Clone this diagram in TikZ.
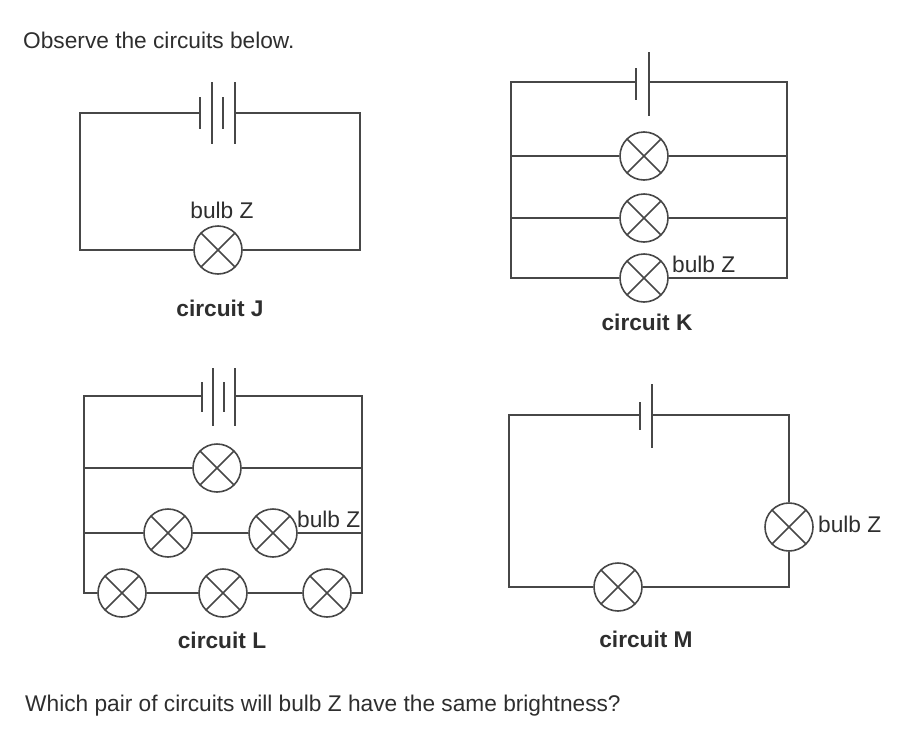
\documentclass[tikz,border=0pt]{standalone}
\usepackage{fontspec}
\setmainfont{Liberation Sans}

\begin{document}
\begin{tikzpicture}[x=1pt,y=-1pt,
	wire/.style={line width=1.6pt,draw=black!72},
	plate/.style={line width=1.9pt,draw=black!72},
	bulb/.style={circle,draw=black!72,line width=1.6pt,minimum size=48pt,inner sep=0pt,
		path picture={\draw[line width=1.6pt,black!72]
			(path picture bounding box.north west) -- (path picture bounding box.south east)
			(path picture bounding box.north east) -- (path picture bounding box.south west);}},
	lbl/.style={inner sep=0pt,text=black!82,font=\fontsize{22.7}{26}\selectfont},
	ctitle/.style={lbl,font=\fontsize{22.7}{26}\selectfont\bfseries}
	]
	\useasboundingbox (0,0) rectangle (921,731);

	\node[lbl,anchor=base west] (observe) at (23,48) {Observe the circuits below.};

	% circuit J
	\coordinate (Jcl) at (200,113);
	\coordinate (Jcr) at (235,113);
	\coordinate (Jtl) at (80,113);
	\coordinate (Jtr) at (360,113);
	\coordinate (Jbl) at (80,250);
	\coordinate (Jbr) at (360,250);
	\node[bulb] (bulbJ) at (218,250) {};
	\draw[wire] (Jcl) -- (Jtl) -- (Jbl) -- (bulbJ) -- (Jbr) -- (Jtr) -- (Jcr);
	\foreach \x/\h in {200/16,212/31,223/16,235/31}
		\draw[plate] (\x,113-\h) -- (\x,113+\h);
	\node[lbl,anchor=base] (zJ) at (222,218) {bulb Z};
	\node[ctitle,anchor=base] (nameJ) at (220,316) {circuit J};

	% circuit K
	\coordinate (Kcl) at (636,82);
	\coordinate (Kcr) at (649,82);
	\coordinate (Ktl) at (511,82);
	\coordinate (Ktr) at (787,82);
	\coordinate (Kl1) at (511,156);
	\coordinate (Kr1) at (787,156);
	\coordinate (Kl2) at (511,218);
	\coordinate (Kr2) at (787,218);
	\coordinate (Kbl) at (511,278);
	\coordinate (Kbr) at (787,278);
	\node[bulb] (bulbK1) at (644,156) {};
	\node[bulb] (bulbK2) at (644,218) {};
	\node[bulb] (bulbK3) at (644,278) {};
	\draw[wire] (Kcl) -- (Ktl) -- (Kbl) -- (bulbK3) -- (Kbr) -- (Ktr) -- (Kcr);
	\draw[wire] (Kl1) -- (bulbK1) -- (Kr1);
	\draw[wire] (Kl2) -- (bulbK2) -- (Kr2);
	\foreach \x/\h in {636/16,649/32}
		\draw[plate] (\x,84-\h) -- (\x,84+\h);
	\node[lbl,anchor=base west] (zK) at (672,272) {bulb Z};
	\node[ctitle,anchor=base] (nameK) at (647,330) {circuit K};

	% circuit L
	\coordinate (Lcl) at (202,396);
	\coordinate (Lcr) at (235,396);
	\coordinate (Ltl) at (84,396);
	\coordinate (Ltr) at (362,396);
	\coordinate (Ll1) at (84,468);
	\coordinate (Lr1) at (362,468);
	\coordinate (Ll2) at (84,533);
	\coordinate (Lr2) at (362,533);
	\coordinate (Lbl) at (84,593);
	\coordinate (Lbr) at (362,593);
	\node[bulb] (bulbL1) at (217,468) {};
	\node[bulb] (bulbL2) at (168,533) {};
	\node[bulb] (bulbL3) at (273,533) {};
	\node[bulb] (bulbL4) at (122,593) {};
	\node[bulb] (bulbL5) at (223,593) {};
	\node[bulb] (bulbL6) at (327,593) {};
	\draw[wire] (Lcl) -- (Ltl) -- (Lbl) -- (bulbL4) -- (bulbL5) -- (bulbL6) -- (Lbr) -- (Ltr) -- (Lcr);
	\draw[wire] (Ll1) -- (bulbL1) -- (Lr1);
	\draw[wire] (Ll2) -- (bulbL2) -- (bulbL3) -- (Lr2);
	\foreach \x/\h in {202/15,213/29,224/15,235/29}
		\draw[plate] (\x,397-\h) -- (\x,397+\h);
	\node[lbl,anchor=base west] (zL) at (297,527) {bulb Z};
	\node[ctitle,anchor=base] (nameL) at (222,648) {circuit L};

	% circuit M
	\coordinate (Mcl) at (640,415);
	\coordinate (Mcr) at (652,415);
	\coordinate (Mtl) at (509,415);
	\coordinate (Mtr) at (789,415);
	\coordinate (Mbl) at (509,587);
	\coordinate (Mbr) at (789,587);
	\node[bulb] (bulbM1) at (618,587) {};
	\node[bulb] (bulbM2) at (789,527) {};
	\draw[wire] (Mcl) -- (Mtl) -- (Mbl) -- (bulbM1) -- (Mbr) -- (bulbM2) -- (Mtr) -- (Mcr);
	\foreach \x/\h in {640/14,652/32}
		\draw[plate] (\x,416-\h) -- (\x,416+\h);
	\node[lbl,anchor=base west] (zM) at (818,532) {bulb Z};
	\node[ctitle,anchor=base] (nameM) at (646,647) {circuit M};

	\node[lbl,anchor=base west] (question) at (25,711) {Which pair of circuits will bulb Z have the same brightness?};
\end{tikzpicture}
\end{document}
